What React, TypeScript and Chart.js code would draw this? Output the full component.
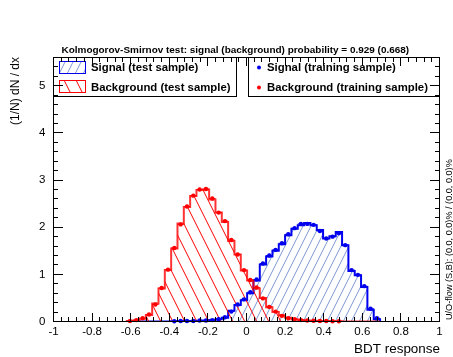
import React, { useEffect, useRef } from "react";
import { Chart, registerables } from "chart.js";

Chart.register(...registerables);

// ---- binning of the TMVA histograms (40 bins) ----
const BIN_LO = -0.62;
const BIN_W = 0.0328;

// ---- data ----
const sigTest = [
  0, 0, 0, 0, 0, 0, 0, 0.005, 0.01, 0.01,
  0.01, 0.015, 0.02, 0.03, 0.05, 0.08, 0.23, 0.35, 0.45, 0.6,
  0.87, 1.21, 1.38, 1.5, 1.64, 1.83, 1.97, 2.04, 2.09, 2.04,
  1.94, 1.76, 1.81, 1.9, 1.62, 1.07, 0.98, 0.73, 0.25, 0.05,
];
const bkgTest = [
  0.01, 0.02, 0.06, 0.14, 0.38, 0.7, 1.09, 1.55, 2.08, 2.43,
  2.66, 2.79, 2.8, 2.59, 2.31, 2.11, 1.71, 1.42, 1.08, 0.87,
  0.7, 0.5, 0.3, 0.2, 0.13, 0.08, 0.05, 0.03, 0.02, 0.015,
  0.01, 0.01, 0.005, 0.005, 0, 0, 0, 0, 0, 0,
];
const sigTrain: (number | null)[] = [
  null, null, null, null, null, null, null, 0.005, 0.01, 0.01,
  0.01, 0.02, 0.02, 0.03, 0.05, 0.09, 0.21, 0.36, 0.47, 0.62,
  0.89, 1.23, 1.4, 1.52, 1.66, 1.85, 1.98, 2.07, 2.07, 2.05,
  1.92, 1.76, 1.8, 1.87, 1.62, 1.09, 0.99, 0.75, 0.27, 0.07,
];
const bkgTrain: (number | null)[] = [
  0.01, 0.03, 0.07, 0.15, 0.36, 0.71, 1.1, 1.56, 2.06, 2.44,
  2.67, 2.8, 2.81, 2.61, 2.31, 2.13, 1.73, 1.42, 1.09, 0.88,
  0.72, 0.49, 0.31, 0.21, 0.12, 0.07, 0.05, 0.03, 0.02, 0.015,
  0.01, 0.01, 0.005, 0.005, null, null, null, null, null, null,
];

const X_MIN = -1;
const X_MAX = 1;
const Y_MIN = 0;
const Y_MAX = 5.6;
const X_STEP = 0.2;
const Y_STEP = 1;

const TITLE = "Kolmogorov-Smirnov test: signal (background) probability = 0.929 (0.668)";
const X_TITLE = "BDT response";
const Y_TITLE = "(1/N) dN / dx";
const FLOW_TEXT = "U/O-flow (S,B): (0.0, 0.0)% / (0.0, 0.0)%";
const LEGEND_LEFT = ["Signal (test sample)", "Background (test sample)"];
const LEGEND_RIGHT = ["Signal (training sample)", "Background (training sample)"];

const SIG_LINE = "#0000ee";
const SIG_HATCH = "#7d99d1";
const BKG_LINE = "rgba(255,0,0,0.8)";
const BKG_HATCH = "#ff0000";
const BKG_POINT = "#ff0000";
const FONT = "'Liberation Sans', Arial, Helvetica, sans-serif";

function makeHatch(ctx: CanvasRenderingContext2D, color: string, s: number, dir: number) {
  const c = document.createElement("canvas");
  c.width = s;
  c.height = s * 2;
  const g = c.getContext("2d")!;
  g.strokeStyle = color;
  g.lineWidth = 1;
  g.beginPath();
  for (let k = -1; k <= 1; k++) {
    if (dir > 0) {
      g.moveTo(k * s, 2 * s);
      g.lineTo((k + 1) * s, 0);
    } else {
      g.moveTo(k * s, 0);
      g.lineTo((k + 1) * s, 2 * s);
    }
  }
  g.stroke();
  return ctx.createPattern(c, "repeat")!;
}

function histPoints(vals: number[]) {
  const pts = [{ x: BIN_LO, y: 0 }];
  vals.forEach((v, i) => pts.push({ x: BIN_LO + i * BIN_W, y: v }));
  pts.push({ x: BIN_LO + vals.length * BIN_W, y: 0 });
  return pts;
}

function trainPoints(vals: (number | null)[]) {
  const pts: { x: number; y: number }[] = [];
  vals.forEach((v, i) => {
    if (v !== null) pts.push({ x: BIN_LO + (i + 0.5) * BIN_W, y: v });
  });
  return pts;
}

function fitSize(ctx: CanvasRenderingContext2D, text: string, weight: string, width: number) {
  ctx.font = `${weight} 10px ${FONT}`;
  return (10 * width) / ctx.measureText(text).width;
}

export default function App() {
  const ref = useRef<HTMLCanvasElement>(null);

  useEffect(() => {
    const canvas = ref.current!;
    const ctx0 = canvas.getContext("2d")!;
    const sigPat = makeHatch(ctx0, SIG_HATCH, 8, 1);
    const bkgPat = makeHatch(ctx0, BKG_HATCH, 12, -1);

    const decor = {
      id: "rootDecor",
      afterDatasetsDraw(chart: any) {
        const ctx: CanvasRenderingContext2D = chart.ctx;
        const xs = chart.scales.x;
        const half = (xs.getPixelForValue(BIN_W) - xs.getPixelForValue(0)) / 2;
        ctx.save();
        [2, 3].forEach((di) => {
          const meta = chart.getDatasetMeta(di);
          ctx.strokeStyle = di === 2 ? SIG_LINE : BKG_POINT;
          ctx.lineWidth = 1;
          meta.data.forEach((p: any) => {
            ctx.beginPath();
            ctx.moveTo(p.x - half, p.y);
            ctx.lineTo(p.x + half, p.y);
            ctx.stroke();
          });
        });
        ctx.restore();
      },
      afterDraw(chart: any) {
        const ctx: CanvasRenderingContext2D = chart.ctx;
        const a = chart.chartArea;
        const xs = chart.scales.x;
        const ys = chart.scales.y;
        ctx.save();

        // legend boxes
        ctx.lineWidth = 1;
        ctx.strokeStyle = "#000";
        ctx.fillStyle = "#fff";
        const boxTop = a.top;
        const boxH = 39;
        ctx.fillRect(a.left, boxTop, 183, boxH);
        ctx.strokeRect(a.left, boxTop, 183, boxH);
        ctx.fillRect(248.5, boxTop, a.right - 248.5, boxH);
        ctx.strokeRect(248.5, boxTop, a.right - 248.5, boxH);

        // swatches
        ctx.fillStyle = sigPat;
        ctx.fillRect(59.5, 61.5, 26, 12);
        ctx.strokeStyle = SIG_LINE;
        ctx.strokeRect(59.5, 61.5, 26, 12);
        ctx.fillStyle = bkgPat;
        ctx.fillRect(59.5, 80.5, 26, 12);
        ctx.strokeStyle = BKG_POINT;
        ctx.strokeRect(59.5, 80.5, 26, 12);

        // markers
        ctx.fillStyle = SIG_LINE;
        ctx.beginPath();
        ctx.arc(259, 67.5, 2, 0, Math.PI * 2);
        ctx.fill();
        ctx.fillStyle = BKG_POINT;
        ctx.beginPath();
        ctx.arc(259, 87.5, 2, 0, Math.PI * 2);
        ctx.fill();

        // legend text
        const ls = fitSize(ctx, LEGEND_RIGHT[1], "bold", 161);
        ctx.font = `bold ${ls}px ${FONT}`;
        ctx.fillStyle = "#000";
        ctx.textAlign = "left";
        ctx.textBaseline = "alphabetic";
        ctx.fillText(LEGEND_LEFT[0], 91, 71);
        ctx.fillText(LEGEND_LEFT[1], 91, 91);
        ctx.fillText(LEGEND_RIGHT[0], 267, 71);
        ctx.fillText(LEGEND_RIGHT[1], 267, 91);

        // frame
        ctx.strokeStyle = "#000";
        ctx.lineWidth = 1;
        ctx.strokeRect(a.left, a.top, a.right - a.left, a.bottom - a.top);

        // ticks
        ctx.beginPath();
        const nx = Math.round((X_MAX - X_MIN) / 0.04);
        for (let i = 0; i <= nx; i++) {
          const v = X_MIN + i * 0.04;
          const px = Math.floor(xs.getPixelForValue(v)) + 0.5;
          const len = i % 5 === 0 ? 8.5 : 4.5;
          ctx.moveTo(px, a.bottom);
          ctx.lineTo(px, a.bottom - len);
          ctx.moveTo(px, a.top);
          ctx.lineTo(px, a.top + len);
        }
        for (let i = 0; i * 0.2 <= Y_MAX + 1e-9; i++) {
          const v = i * 0.2;
          const py = Math.floor(ys.getPixelForValue(v)) + 0.5;
          const len = i % 5 === 0 ? 9.5 : 4.5;
          ctx.moveTo(a.left, py);
          ctx.lineTo(a.left + len, py);
          ctx.moveTo(a.right, py);
          ctx.lineTo(a.right - len, py);
        }
        ctx.stroke();

        // title
        const ts = fitSize(ctx, TITLE, "bold", 348);
        ctx.font = `bold ${ts}px ${FONT}`;
        ctx.fillStyle = "#000";
        ctx.textAlign = "left";
        ctx.fillText(TITLE, 61.5, 52.5);

        // x title
        const xt = fitSize(ctx, X_TITLE, "normal", 86);
        ctx.font = `normal ${xt}px ${FONT}`;
        ctx.textAlign = "right";
        ctx.fillText(X_TITLE, 440, 353);

        // y title
        ctx.save();
        ctx.font = `normal 12px ${FONT}`;
        ctx.translate(19, 57);
        ctx.rotate(-Math.PI / 2);
        ctx.textAlign = "right";
        ctx.fillText(Y_TITLE, 0, 0);
        ctx.restore();

        // under/overflow text
        const ft = fitSize(ctx, FLOW_TEXT, "normal", 161);
        ctx.save();
        ctx.font = `normal ${ft}px ${FONT}`;
        ctx.translate(452, 320);
        ctx.rotate(-Math.PI / 2);
        ctx.textAlign = "left";
        ctx.fillText(FLOW_TEXT, 0, 0);
        ctx.restore();

        ctx.restore();
      },
    };

    const fmt = (v: any) => String(Math.round(Number(v) * 10) / 10);

    const chart = new Chart(canvas, {
      type: "line",
      data: {
        datasets: [
          {
            label: "Signal (test sample)",
            data: histPoints(sigTest),
            stepped: true,
            borderColor: SIG_LINE,
            borderWidth: 2,
            backgroundColor: sigPat,
            fill: "origin",
            pointRadius: 0,
            order: 4,
          },
          {
            label: "Background (test sample)",
            data: histPoints(bkgTest),
            stepped: true,
            borderColor: BKG_LINE,
            borderWidth: 2,
            backgroundColor: bkgPat,
            fill: "origin",
            pointRadius: 0,
            order: 3,
          },
          {
            label: "Signal (training sample)",
            data: trainPoints(sigTrain),
            showLine: false,
            pointRadius: 2.2,
            pointBackgroundColor: SIG_LINE,
            pointBorderWidth: 0,
            borderColor: SIG_LINE,
            order: 2,
            clip: 4,
          },
          {
            label: "Background (training sample)",
            data: trainPoints(bkgTrain),
            showLine: false,
            pointRadius: 2.2,
            pointBackgroundColor: BKG_POINT,
            pointBorderWidth: 0,
            borderColor: BKG_POINT,
            order: 1,
            clip: 4,
          },
        ],
      } as any,
      options: {
        animation: false,
        responsive: false,
        events: [],
        layout: { padding: { left: 0, top: 57.5, right: 13.5, bottom: 0 } },
        plugins: { legend: { display: false }, tooltip: { enabled: false }, title: { display: false } },
        scales: {
          x: {
            type: "linear",
            min: X_MIN,
            max: X_MAX,
            grid: { display: false, drawTicks: false },
            border: { display: false },
            ticks: {
              stepSize: X_STEP,
              includeBounds: false,
              autoSkip: false,
              maxRotation: 0,
              padding: 3,
              color: "#000",
              font: { family: FONT, size: 11.5 },
              callback: fmt,
            },
            afterFit: (s: any) => {
              s.height = 35.5;
              s.paddingLeft = 0;
              s.paddingRight = 0;
            },
          },
          y: {
            type: "linear",
            min: Y_MIN,
            max: Y_MAX,
            grid: { display: false, drawTicks: false },
            border: { display: false },
            ticks: {
              stepSize: Y_STEP,
              includeBounds: false,
              padding: 8,
              color: "#000",
              font: { family: FONT, size: 11.5 },
              callback: fmt,
            },
            afterFit: (s: any) => {
              s.width = 53.5;
              s.paddingTop = 0;
              s.paddingBottom = 0;
            },
          },
        },
      } as any,
      plugins: [decor],
    });

    return () => chart.destroy();
  }, []);

  return (
    <div style={{ position: "absolute", left: 0, top: 0, width: 453, height: 357, background: "#fff" }}>
      <canvas ref={ref} width={453} height={357} style={{ display: "block", width: 453, height: 357 }} />
    </div>
  );
}
